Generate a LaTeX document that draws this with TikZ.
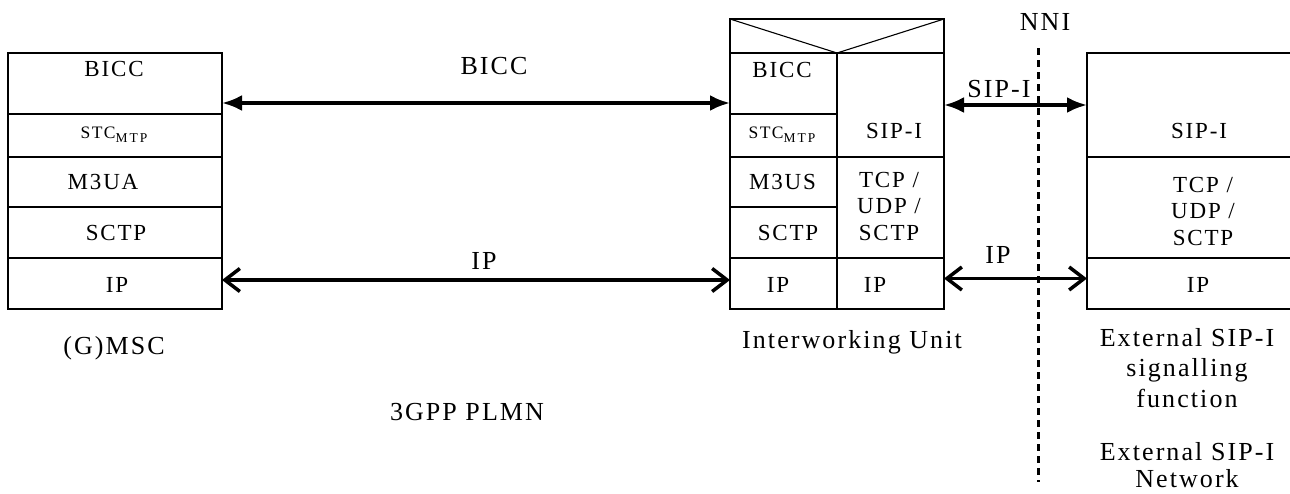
\documentclass[tikz,border=0pt]{standalone}
\usepackage{fontspec}
\setmainfont{Liberation Serif}[LetterSpace=8]
\newfontfamily\mtpfont{Liberation Serif}[LetterSpace=15]
\usetikzlibrary{arrows.meta}
% STC with lowered MTP index
\newcommand{\stcmtp}{{\fontsize{17.5}{20}\selectfont STC}{\mtpfont\fontsize{13.5}{15}\selectfont\raisebox{-4pt}{MTP}}}
\begin{document}
\begin{tikzpicture}[x=1pt,y=-1pt,
    cell/.style={draw, line width=1.1pt, inner sep=0pt, outer sep=0pt},
    boldcell/.style={cell, line width=2.4pt},
    lbl/.style={inner sep=0pt, anchor=base, align=center, font=\fontsize{23}{26.5}\selectfont},
    freetext/.style={inner sep=0pt, anchor=base, align=center, font=\fontsize{26}{30.5}\selectfont},
    sigarrow/.style={line width=3.5pt, {Latex[length=20pt,width=16pt]}-{Latex[length=20pt,width=16pt]}},
    iparrow/.style={line width=3.5pt, {Straight Barb[length=15pt,width=23pt]}-{Straight Barb[length=15pt,width=23pt]}}]
    \useasboundingbox (0,0) rectangle (1290,493);

    % (G)MSC protocol stack
    \node[cell, minimum width=214pt, minimum height=50pt] (mscM3ua) at (115,182) {};
    \node[cell, minimum width=214pt, minimum height=51pt] (mscSctp) at (115,232.5) {};
    \node[cell, minimum width=214pt, minimum height=51pt] (mscIp) at (115,283.5) {};
    \node[boldcell, minimum width=214pt, minimum height=61pt] (mscBicc) at (115,83.5) {};
    \node[boldcell, minimum width=214pt, minimum height=43pt] (mscStc) at (115,135.5) {};

    % Interworking Unit, two stacks under a common header
    \node[cell, minimum width=214pt, minimum height=34pt] (iwuHead) at (837,36) {};
    \draw[line width=1.1pt] (iwuHead.north west) -- (iwuHead.south) -- (iwuHead.north east);
    \node[cell, minimum width=107pt, minimum height=50pt] (iwuM3us) at (783.5,182) {};
    \node[cell, minimum width=107pt, minimum height=51pt] (iwuSctp) at (783.5,232.5) {};
    \node[cell, minimum width=107pt, minimum height=51pt] (iwuIp) at (783.5,283.5) {};
    \node[cell, minimum width=107pt, minimum height=104pt] (iwuSip) at (890.5,105) {};
    \node[cell, minimum width=107pt, minimum height=101pt] (iwuTcp) at (890.5,207.5) {};
    \node[cell, minimum width=107pt, minimum height=51pt] (iwuIpR) at (890.5,283.5) {};
    \node[boldcell, minimum width=107pt, minimum height=61pt] (iwuBicc) at (783.5,83.5) {};
    \node[boldcell, minimum width=107pt, minimum height=43pt] (iwuStc) at (783.5,135.5) {};

    % External SIP-I signalling function (runs off the right edge)
    \node[cell, minimum width=204pt, minimum height=104pt] (extSip) at (1189,105) {};
    \node[cell, minimum width=204pt, minimum height=101pt] (extTcp) at (1189,207.5) {};
    \node[cell, minimum width=204pt, minimum height=51pt] (extIp) at (1189,283.5) {};

    % Layer names
    \node[lbl] (mscBiccTxt) at (114,76) {BICC};
    \node[lbl] (mscStcTxt) at (114,138) {\stcmtp};
    \node[lbl] (mscM3uaTxt) at (103,189) {M3UA};
    \node[lbl] (mscSctpTxt) at (116,240) {SCTP};
    \node[lbl] (mscIpTxt) at (117,292) {IP};
    \node[lbl] (iwuBiccTxt) at (782,77) {BICC};
    \node[lbl] (iwuStcTxt) at (782,138) {\stcmtp};
    \node[lbl] (iwuM3usTxt) at (782.5,189) {M3US};
    \node[lbl] (iwuSctpTxt) at (788,240) {SCTP};
    \node[lbl] (iwuIpTxt) at (778,292) {IP};
    \node[lbl] (iwuSipTxt) at (894,138) {SIP-I};
    \node[lbl] (iwuTcpTxt) at (889,240) {TCP /\\UDP /\\SCTP};
    \node[lbl] (iwuIpRTxt) at (875,292) {IP};
    \node[lbl] (extSipTxt) at (1199,138) {SIP-I};
    \node[lbl] (extTcpTxt) at (1203,245) {TCP /\\UDP /\\SCTP};
    \node[lbl] (extIpTxt) at (1198,292) {IP};

    % Signalling and transport links
    \draw[sigarrow] ([yshift=-19.5pt]mscBicc.east) -- ([yshift=-19.5pt]iwuBicc.west);
    \draw[iparrow] ([yshift=3.5pt]mscIp.east) -- ([yshift=3.5pt]iwuIp.west);
    \draw[sigarrow] (iwuSip.east) -- (extSip.west);
    \draw[iparrow] ([yshift=5pt]iwuIpR.east) -- ([yshift=5pt]extIp.west);
    \node[freetext] (biccLink) at (494,74) {BICC};
    \node[freetext] (ipLink) at (484,269) {IP};
    \node[freetext] (sipLink) at (999,97) {SIP-I};
    \node[freetext] (ipLinkR) at (998,263) {IP};

    % Network border
    \node[freetext] (nni) at (1045,30) {NNI};
    \coordinate (nniTop) at (1038,48);
    \coordinate (nniEnd) at (1038,482);
    \draw[line width=3pt, dash pattern=on 7pt off 5pt] (nniTop) -- (nniEnd);

    % Captions
    \node[freetext] (mscName) at (114,354) {(G)MSC};
    \node[freetext] (iwuName) at (852,348) {Interworking Unit};
    \node[freetext] (plmnName) at (467,420) {3GPP PLMN};
    \node[freetext] (extName) at (1187,407) {External SIP-I\\signalling\\function};
    \node[freetext, font=\fontsize{26}{27}\selectfont] (extNet) at (1187,487) {External SIP-I\\Network};
\end{tikzpicture}
\end{document}
